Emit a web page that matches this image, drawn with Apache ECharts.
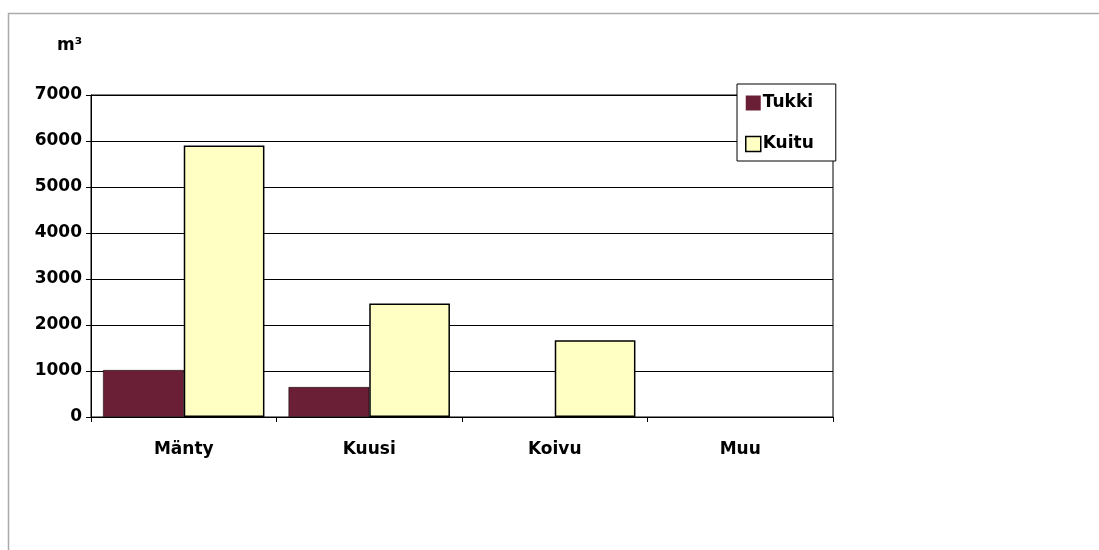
<!DOCTYPE html>
<html>
<head>
<meta charset="utf-8">
<script src="https://cdn.jsdelivr.net/npm/echarts@6/dist/echarts.min.js"></script>
<style>
  html, body { margin: 0; padding: 0; background: #fff; }
  #chart { width: 1099px; height: 550px; }
</style>
</head>
<body>
<div id="chart"></div>
<script>
var categories = ['Mänty', 'Kuusi', 'Koivu', 'Muu'];
var tukki = [1020, 650, 0, 0];
var kuitu = [5900, 2470, 1670, 0];
var yTicks = [0, 1000, 2000, 3000, 4000, 5000, 6000, 7000];

var chart = echarts.init(document.getElementById('chart'));
var font = 'DejaVu Sans, Arial, sans-serif';

// zero values are not drawn in the original
function noZero(arr) {
    return arr.map(function (v) { return v === 0 ? '-' : v; });
}

chart.setOption({
    backgroundColor: '#fff',
    animation: false,
    graphic: [
        {   // outer chart frame
            type: 'rect',
            shape: { x: 8.5, y: 13.5, width: 1200, height: 600 },
            style: { fill: 'none', stroke: '#aaa', lineWidth: 1.5 },
            z: -1
        },
        {
            type: 'text',
            left: 57, top: 37,
            style: { text: 'm³', font: 'bold 17px ' + font, fill: '#000' }
        }
    ],
    grid: {
        left: 91, right: 266, top: 95, bottom: 133,
        show: true, borderColor: '#000', borderWidth: 1
    },
    legend: {
        orient: 'vertical',
        left: 737, top: 84,
        padding: [10, 22, 8, 8],
        itemGap: 23,
        itemWidth: 15, itemHeight: 15,
        borderColor: '#000', borderWidth: 1,
        backgroundColor: '#fff',
        z: 10,
        textStyle: { fontFamily: font, fontWeight: 'bold', fontSize: 17, lineHeight: 18, color: '#000', padding: [0, 0, 0, -3] },
        data: [
            { name: 'Tukki', icon: 'rect', itemStyle: { borderWidth: 0 } },
            { name: 'Kuitu', icon: 'rect', itemStyle: { borderColor: '#000', borderWidth: 1.5 } }
        ]
    },
    xAxis: {
        type: 'category',
        data: categories,
        axisLine: { lineStyle: { color: '#000', width: 1 } },
        axisTick: { show: true, length: 5, lineStyle: { color: '#000' } },
        axisLabel: { margin: 24, fontFamily: font, fontWeight: 'bold', fontSize: 17, color: '#000' }
    },
    yAxis: {
        type: 'value',
        min: yTicks[0], max: yTicks[yTicks.length - 1], interval: 1000,
        axisLine: { show: true, lineStyle: { color: '#000', width: 1 } },
        axisTick: { show: true, length: 5, lineStyle: { color: '#000' } },
        axisLabel: {
            margin: 9, fontFamily: font, fontWeight: 'bold', fontSize: 17, color: '#000',
            formatter: function (v) { return String(v); }
        },
        splitLine: { show: true, lineStyle: { color: '#000', width: 1 } }
    },
    series: [
        {
            name: 'Tukki',
            type: 'bar',
            data: noZero(tukki),
            barGap: '0%',
            barCategoryGap: '13%',
            itemStyle: { color: '#6b1f37', borderColor: '#000', borderWidth: 0.5 }
        },
        {
            name: 'Kuitu',
            type: 'bar',
            data: noZero(kuitu),
            itemStyle: { color: '#ffffc4', borderColor: '#000', borderWidth: 1.5 }
        }
    ]
});
</script>
</body>
</html>
